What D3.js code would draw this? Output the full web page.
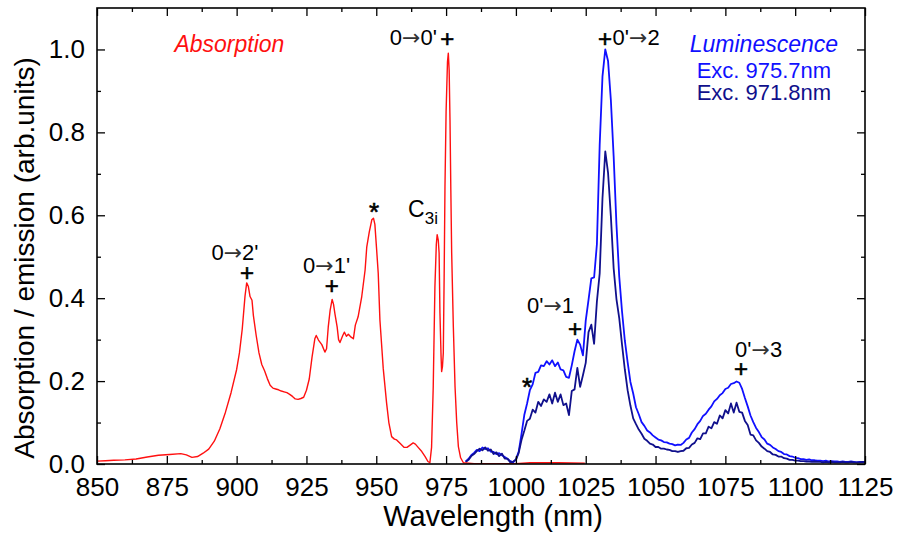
<!DOCTYPE html>
<html>
<head>
<meta charset="utf-8">
<script src="https://cdn.jsdelivr.net/npm/d3@7"></script>
<style>
  body { margin: 0; background: #fff; }
  text { font-family: "Liberation Sans", Arial, sans-serif; }
</style>
</head>
<body>
<svg id="chart" width="901" height="540"></svg>
<script>
// Axis ticks
const xTicks = [850, 875, 900, 925, 950, 975, 1000, 1025, 1050, 1075, 1100, 1125];
const yTicks = [0.0, 0.2, 0.4, 0.6, 0.8, 1.0];

// Absorption spectrum: wavelength (nm) and normalised absorption
const absWavelength = [
  850, 853, 856, 860, 864, 868, 872, 876, 880, 882, 884, 886, 888, 890, 892, 894, 896, 898,
  900, 901, 902, 903, 903.6, 904.2, 904.8, 905.5, 906, 907, 908, 909, 910, 911, 912, 913,
  914, 915, 916, 917, 918, 919, 920, 921, 922, 923, 924, 925, 926, 927, 928, 928.5, 929.3,
  930.5, 931.6, 932.2, 932.8, 933.5, 934.2, 934.7, 935.2, 936, 936.5, 937, 938, 938.6,
  939.3, 940, 941, 941.8, 942.5, 943.5, 944.8, 946, 946.6, 947.5, 948.4, 949, 949.5,
  950.1, 950.7, 951.3, 952.5, 953.7, 954.5, 955.5, 956.5, 957.3, 958.5, 960, 961, 962,
  963.2, 964, 965, 966.3, 967.5, 968.5, 969.2, 969.8, 970.4, 971, 971.5, 971.8, 972.2,
  972.5, 972.8, 973.2, 973.4, 973.7, 974, 974.3, 974.6, 975, 975.5, 975.8, 976.1, 976.4,
  976.7, 977, 977.6, 978.2, 978.8, 979.4, 980.2, 981.2, 985, 995, 1000, 1005, 1015, 1024.7
];
const absValue = [
  0.007, 0.008, 0.009, 0.010, 0.012, 0.017, 0.021, 0.023, 0.025, 0.022, 0.016, 0.018, 0.026,
  0.036, 0.055, 0.085, 0.125, 0.172, 0.228, 0.268, 0.325, 0.405, 0.437, 0.428, 0.404, 0.395,
  0.358, 0.310, 0.268, 0.240, 0.225, 0.206, 0.190, 0.183, 0.181, 0.179, 0.176, 0.174, 0.172,
  0.168, 0.163, 0.157, 0.156, 0.158, 0.161, 0.178, 0.205, 0.258, 0.302, 0.310, 0.299, 0.288,
  0.270, 0.278, 0.330, 0.372, 0.397, 0.385, 0.362, 0.330, 0.300, 0.293, 0.310, 0.318, 0.308,
  0.313, 0.306, 0.302, 0.335, 0.355, 0.404, 0.468, 0.524, 0.560, 0.589, 0.593, 0.578, 0.520,
  0.460, 0.348, 0.230, 0.147, 0.100, 0.066, 0.060, 0.058, 0.050, 0.040, 0.040, 0.045, 0.051,
  0.048, 0.040, 0.030, 0.018, 0.006, 0.003, 0.040, 0.187, 0.428, 0.530, 0.553, 0.540, 0.509,
  0.364, 0.260, 0.223, 0.235, 0.268, 0.450, 0.669, 0.850, 0.970, 0.991, 0.950, 0.830, 0.660,
  0.509, 0.330, 0.187, 0.100, 0.042, 0.015, 0.003, 0.001, 0.001, 0.001, 0.003, 0.003, 0.002
];

// Luminescence spectra, 1 nm steps from lumStart
const lumStart = 982;
const lumExc975 = [
  0.006, 0.012, 0.021, 0.027, 0.034, 0.031, 0.040, 0.036, 0.038, 0.030, 0.029, 0.024, 0.026,
  0.021, 0.017, 0.012, 0.007, 0.004, 0.011, 0.030, 0.072, 0.118, 0.146, 0.178, 0.192, 0.220,
  0.222, 0.238, 0.236, 0.248, 0.240, 0.250, 0.236, 0.245, 0.228, 0.226, 0.210, 0.208, 0.238,
  0.272, 0.300, 0.288, 0.262, 0.346, 0.396, 0.448, 0.450, 0.530, 0.770, 0.935, 1.000, 0.972,
  0.878, 0.742, 0.578, 0.452, 0.368, 0.298, 0.246, 0.198, 0.170, 0.137, 0.120, 0.101, 0.092,
  0.081, 0.076, 0.069, 0.064, 0.059, 0.057, 0.053, 0.052, 0.049, 0.048, 0.045, 0.047, 0.046,
  0.051, 0.059, 0.063, 0.076, 0.084, 0.096, 0.104, 0.116, 0.121, 0.131, 0.139, 0.151, 0.157,
  0.166, 0.171, 0.181, 0.184, 0.193, 0.195, 0.199, 0.196, 0.181, 0.159, 0.139, 0.117, 0.101,
  0.087, 0.077, 0.065, 0.059, 0.049, 0.046, 0.040, 0.036, 0.031, 0.029, 0.024, 0.023, 0.019,
  0.018, 0.015, 0.014, 0.012, 0.012, 0.010, 0.011, 0.009, 0.009, 0.008, 0.008, 0.007, 0.008,
  0.006, 0.007, 0.006, 0.006, 0.005, 0.006, 0.005, 0.005, 0.006, 0.005, 0.004, 0.005, 0.005,
  0.005
];
const lumExc971 = [
  0.005, 0.010, 0.019, 0.024, 0.031, 0.037, 0.033, 0.040, 0.032, 0.035, 0.024, 0.028, 0.019,
  0.025, 0.013, 0.013, 0.004, 0.006, 0.010, 0.027, 0.058, 0.080, 0.104, 0.109, 0.131, 0.124,
  0.150, 0.140, 0.156, 0.150, 0.168, 0.146, 0.172, 0.150, 0.168, 0.142, 0.146, 0.118, 0.176,
  0.180, 0.232, 0.186, 0.214, 0.244, 0.318, 0.336, 0.290, 0.392, 0.460, 0.641, 0.754, 0.702,
  0.598, 0.472, 0.398, 0.352, 0.288, 0.228, 0.178, 0.141, 0.110, 0.096, 0.083, 0.073, 0.061,
  0.056, 0.049, 0.047, 0.041, 0.041, 0.037, 0.037, 0.035, 0.034, 0.031, 0.031, 0.029, 0.031,
  0.032, 0.038, 0.039, 0.047, 0.051, 0.062, 0.060, 0.074, 0.074, 0.090, 0.086, 0.101, 0.097,
  0.117, 0.110, 0.130, 0.122, 0.146, 0.124, 0.148, 0.126, 0.124, 0.104, 0.094, 0.071, 0.069,
  0.057, 0.051, 0.042, 0.037, 0.031, 0.029, 0.023, 0.022, 0.018, 0.018, 0.014, 0.013, 0.010,
  0.010, 0.008, 0.008, 0.007, 0.007, 0.006, 0.006, 0.005, 0.006, 0.005, 0.005, 0.004, 0.005,
  0.004, 0.005, 0.004, 0.004, 0.004, 0.005, 0.004, 0.004, 0.005, 0.004, 0.004, 0.004, 0.005,
  0.004
];

// Transition labels: [before arrow, after arrow], text baseline at wl / v
const transitionLabels = [
  { pre: "0", post: "2'", wl: 899.4, v: 0.492, anchor: "middle" },
  { pre: "0", post: "1'", wl: 932.2, v: 0.461, anchor: "middle" },
  { pre: "0", post: "0'", wl: 971.7, v: 1.011, anchor: "end" },
  { pre: "0'", post: "2", wl: 1034.6, v: 1.011, anchor: "start" },
  { pre: "0'", post: "1", wl: 1012.4, v: 0.364, anchor: "middle" },
  { pre: "0'", post: "3", wl: 1086.9, v: 0.258, anchor: "middle" }
];
// Peak markers (symbol centred at wl / v)
const peakMarkers = [
  { sym: "+", wl: 903.7, v: 0.461 },
  { sym: "+", wl: 934.1, v: 0.430 },
  { sym: "*", wl: 949.2, v: 0.623 },
  { sym: "+", wl: 975.4, v: 1.027 },
  { sym: "+", wl: 1031.9, v: 1.027 },
  { sym: "+", wl: 1021.2, v: 0.326 },
  { sym: "*", wl: 1004.0, v: 0.200 },
  { sym: "+", wl: 1080.6, v: 0.230 }
];

const svg = d3.select("#chart");
const W = 901, H = 540;
const margin = { left: 97, top: 8, right: 36, bottom: 76 };
const x = d3.scaleLinear().domain([850, 1125]).range([margin.left, W - margin.right]);
const y = d3.scaleLinear().domain([0, 1.1]).range([H - margin.bottom, margin.top]);

const xMinor = d3.range(862.5, 1125, 25);
const yMinor = d3.range(0.1, 1.1, 0.2);

svg.append("defs").append("clipPath").attr("id", "plot-clip")
  .append("rect")
  .attr("x", margin.left).attr("y", margin.top)
  .attr("width", W - margin.left - margin.right)
  .attr("height", H - margin.top - margin.bottom);

// Spectra
const absData = absWavelength.map((w, i) => [w, absValue[i]]);
const lum975 = lumExc975.map((v, i) => [lumStart + i, v]);
const lum971 = lumExc971.map((v, i) => [lumStart + i, v]);
const line = d3.line().x(d => x(d[0])).y(d => y(d[1]));

const plot = svg.append("g").attr("clip-path", "url(#plot-clip)");
plot.append("path").datum(lum975).attr("d", line)
  .attr("fill", "none").attr("stroke", "#1010ff").attr("stroke-width", 1.8)
  .attr("stroke-linejoin", "round");
plot.append("path").datum(lum971).attr("d", line)
  .attr("fill", "none").attr("stroke", "#10108c").attr("stroke-width", 1.8)
  .attr("stroke-linejoin", "round");
plot.append("path").datum(absData).attr("d", line)
  .attr("fill", "none").attr("stroke", "#ff1010").attr("stroke-width", 1.4)
  .attr("stroke-linejoin", "round");

// Axes with inward ticks on all four sides
const fs = 26;
function styleAxis(g) {
  g.select(".domain").remove();
  g.selectAll(".tick line").attr("stroke", "#000").attr("stroke-width", 1.3);
  g.selectAll("text").attr("font-size", fs).attr("fill", "#000")
    .attr("font-family", "'Liberation Sans', Arial, sans-serif");
}
const yb = H - margin.bottom, yt = margin.top, xl = margin.left, xr = W - margin.right;

svg.append("g").attr("transform", `translate(0,${yb})`)
  .call(d3.axisBottom(x).tickValues(xTicks).tickFormat(d3.format("d")).tickSize(-8).tickPadding(14))
  .call(styleAxis);
svg.append("g").attr("transform", `translate(0,${yb})`)
  .call(d3.axisBottom(x).tickValues(xMinor).tickFormat("").tickSize(-4))
  .call(styleAxis);
svg.append("g").attr("transform", `translate(0,${yt})`)
  .call(d3.axisTop(x).tickValues(xTicks).tickFormat("").tickSize(-8))
  .call(styleAxis);
svg.append("g").attr("transform", `translate(0,${yt})`)
  .call(d3.axisTop(x).tickValues(xMinor).tickFormat("").tickSize(-4))
  .call(styleAxis);
svg.append("g").attr("transform", `translate(${xl},0)`)
  .call(d3.axisLeft(y).tickValues(yTicks).tickFormat(d3.format(".1f")).tickSize(-8).tickPadding(12))
  .call(styleAxis);
svg.append("g").attr("transform", `translate(${xl},0)`)
  .call(d3.axisLeft(y).tickValues(yMinor).tickFormat("").tickSize(-4))
  .call(styleAxis);
svg.append("g").attr("transform", `translate(${xr},0)`)
  .call(d3.axisRight(y).tickValues(yTicks).tickFormat("").tickSize(-8))
  .call(styleAxis);
svg.append("g").attr("transform", `translate(${xr},0)`)
  .call(d3.axisRight(y).tickValues(yMinor).tickFormat("").tickSize(-4))
  .call(styleAxis);

// Frame
svg.append("rect")
  .attr("x", xl).attr("y", yt).attr("width", xr - xl).attr("height", yb - yt)
  .attr("fill", "none").attr("stroke", "#000").attr("stroke-width", 1.6);

// Axis titles
svg.append("text")
  .attr("x", (xl + xr) / 2 + 12).attr("y", 526)
  .attr("text-anchor", "middle").attr("font-size", 29).attr("fill", "#000")
  .text("Wavelength (nm)");
svg.append("text")
  .attr("transform", `translate(34,${(yt + yb) / 2 + 22}) rotate(-90)`)
  .attr("text-anchor", "middle").attr("font-size", 28).attr("fill", "#000")
  .text("Absorption / emission (arb.units)");

// Legend-style captions
svg.append("text")
  .attr("x", x(897.4)).attr("y", y(0.994))
  .attr("text-anchor", "middle").attr("font-size", 23).attr("font-style", "italic")
  .attr("fill", "#ff1010").text("Absorption");
svg.append("text")
  .attr("x", x(1088.8)).attr("y", y(0.994))
  .attr("text-anchor", "middle").attr("font-size", 23).attr("font-style", "italic")
  .attr("fill", "#1010ff").text("Luminescence");
svg.append("text")
  .attr("x", x(1088.8)).attr("y", y(0.932))
  .attr("text-anchor", "middle").attr("font-size", 22)
  .attr("fill", "#1010ff").text("Exc. 975.7nm");
svg.append("text")
  .attr("x", x(1088.8)).attr("y", y(0.879))
  .attr("text-anchor", "middle").attr("font-size", 22)
  .attr("fill", "#10108c").text("Exc. 971.8nm");

// Transition labels with a long thin arrow
const tl = svg.append("g").selectAll("text").data(transitionLabels).join("text")
  .attr("x", d => x(d.wl)).attr("y", d => y(d.v))
  .attr("text-anchor", d => d.anchor).attr("font-size", 22).attr("fill", "#000");
tl.append("tspan").text(d => d.pre);
tl.append("tspan").attr("font-family", "'DejaVu Sans', sans-serif").attr("font-size", 22)
  .attr("fill", "#333").text("\u2192");
tl.append("tspan").text(d => d.post);

// C3i label with subscript
const c3i = svg.append("text")
  .attr("x", x(961.4)).attr("y", y(0.596))
  .attr("font-size", 23).attr("fill", "#000");
c3i.append("tspan").text("C");
c3i.append("tspan").attr("font-size", 17).attr("dy", 7).text("3i");

// Peak markers
svg.append("g").selectAll("text").data(peakMarkers).join("text")
  .attr("x", d => x(d.wl)).attr("y", d => y(d.v))
  .attr("dy", d => d.sym === "*" ? "0.58em" : "0.35em")
  .attr("text-anchor", "middle")
  .attr("font-size", d => d.sym === "*" ? 26 : 24)
  .attr("fill", "#000")
  .style("paint-order", "stroke").attr("stroke", "#000").attr("stroke-width", 0.6)
  .text(d => d.sym);
</script>
</body>
</html>
